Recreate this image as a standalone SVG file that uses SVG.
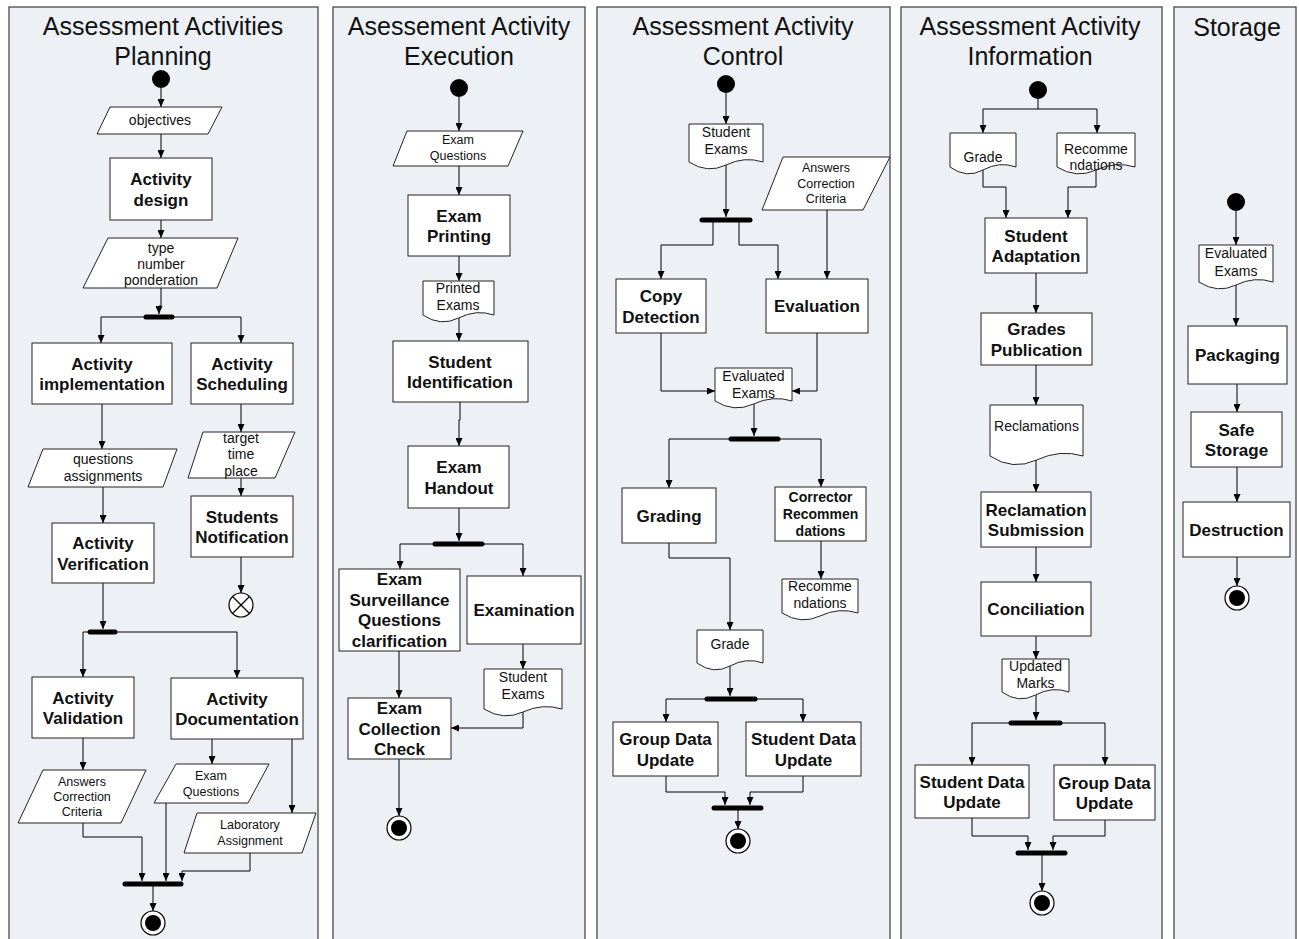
<svg xmlns="http://www.w3.org/2000/svg" width="1299" height="939" viewBox="0 0 1299 939">
<style>
.lane{fill:#EDF1F6;stroke:#4a4a4a;stroke-width:1.3}
.box{fill:#fff;stroke:#222;stroke-width:1}
.io{fill:#fff;stroke:#222;stroke-width:1}
.c{fill:none;stroke:#000;stroke-width:1;marker-end:url(#ah)}
.bar{stroke:#000;stroke-width:5;stroke-linecap:round}
.start{fill:#000}
.fo{fill:#fff;stroke:#000;stroke-width:1.2}
.fi{fill:#000}
text{font-family:"Liberation Sans",Arial,sans-serif;text-anchor:middle;fill:#111}
.t{font-size:25px}
.b{font-size:17px;font-weight:bold}
.bs{font-size:14px;font-weight:bold}
.r{font-size:14px}
.s{font-size:12.5px}
</style>
<defs>
<marker id="ah" markerUnits="userSpaceOnUse" markerWidth="8" markerHeight="7" refX="8" refY="3.5" orient="auto">
<path d="M0,0 L8,3.5 L0,7 Z" fill="#000"/>
</marker>
</defs>

<g id="lanes">
<rect class="lane" x="9" y="7" width="309" height="945"/>
<rect class="lane" x="333" y="7" width="252" height="945"/>
<rect class="lane" x="597" y="7" width="293" height="945"/>
<rect class="lane" x="901" y="7" width="261" height="945"/>
<rect class="lane" x="1174" y="7" width="122" height="945"/>
<text class="t" x="163" y="35">Assessment Activities</text>
<text class="t" x="163" y="65">Planning</text>
<text class="t" x="459" y="35">Asessement Activity</text>
<text class="t" x="459" y="65">Execution</text>
<text class="t" x="743" y="35">Assessment Activity</text>
<text class="t" x="743" y="65">Control</text>
<text class="t" x="1030" y="35">Assessment Activity</text>
<text class="t" x="1030" y="65">Information</text>
<text class="t" x="1237" y="36">Storage</text>
</g>

<g id="connectors">
<!-- lane 1 -->
<polyline class="c" points="161,88 161,107"/>
<polyline class="c" points="161,134 161,158"/>
<polyline class="c" points="161,220 161,238"/>
<polyline class="c" points="161,288 161,306 159,306 159,314"/>
<polyline class="c" points="150,317 101,317 101,343"/>
<polyline class="c" points="168,317 241,317 241,343"/>
<polyline class="c" points="102,404 102,449"/>
<polyline class="c" points="103,487 103,523"/>
<polyline class="c" points="241,404 241,432"/>
<polyline class="c" points="241,478 241,496"/>
<polyline class="c" points="241,557 241,593"/>
<polyline class="c" points="103,583 103,629"/>
<polyline class="c" points="92,632 83,632 83,677"/>
<polyline class="c" points="113,632 237,632 237,678"/>
<polyline class="c" points="83,738 83,770"/>
<polyline class="c" points="83,823 83,837 142,837 142,881"/>
<polyline class="c" points="212,739 212,764"/>
<polyline class="c" points="166,803 166,881"/>
<polyline class="c" points="292,739 292,813"/>
<polyline class="c" points="250,853 250,871 182,871 182,881"/>
<polyline class="c" points="153,886 153,911"/>
<!-- lane 2 -->
<polyline class="c" points="459,97 459,131"/>
<polyline class="c" points="459,166 459,195"/>
<polyline class="c" points="459,256 459,281"/>
<polyline class="c" points="459,318 459,341"/>
<polyline class="c" points="460,402 460,420 459,420 459,446"/>
<polyline class="c" points="459,508 459,541"/>
<polyline class="c" points="437,544 400,544 400,569"/>
<polyline class="c" points="480,544 523,544 523,576"/>
<polyline class="c" points="523,644 523,669"/>
<polyline class="c" points="523,712 523,728 451,728"/>
<polyline class="c" points="399,651 399,698"/>
<polyline class="c" points="399,759 399,816"/>
<!-- lane 3 -->
<polyline class="c" points="726,93 726,124"/>
<polyline class="c" points="726,165 726,217"/>
<polyline class="c" points="713,220 713,245 661,245 661,279"/>
<polyline class="c" points="739,220 739,245 778,245 778,279"/>
<polyline class="c" points="827,210 827,279"/>
<polyline class="c" points="661,333 661,391 715,391"/>
<polyline class="c" points="817,333 817,391 792,391"/>
<polyline class="c" points="754,404 754,436"/>
<polyline class="c" points="733,439 669,439 669,488"/>
<polyline class="c" points="776,439 821,439 821,487"/>
<polyline class="c" points="821,541 821,579"/>
<polyline class="c" points="669,543 669,558 730,558 730,630"/>
<polyline class="c" points="730,666 730,696"/>
<polyline class="c" points="709,699 666,699 666,722"/>
<polyline class="c" points="753,699 803,699 803,722"/>
<polyline class="c" points="666,776 666,792 725,792 725,805"/>
<polyline class="c" points="803,776 803,792 750,792 750,805"/>
<polyline class="c" points="738,810 738,829"/>
<!-- lane 4 -->
<polyline fill="none" stroke="#000" stroke-width="1" points="1038,99 1038,109"/>
<polyline class="c" points="1038,109 983,109 983,133"/>
<polyline class="c" points="1038,109 1097,109 1097,133"/>
<polyline class="c" points="983,170 983,187 1006,187 1006,218"/>
<polyline class="c" points="1096,170 1096,187 1068,187 1068,218"/>
<polyline class="c" points="1036,273 1036,313"/>
<polyline class="c" points="1036,365 1036,405"/>
<polyline class="c" points="1036,460 1036,492"/>
<polyline class="c" points="1036,547 1036,582"/>
<polyline class="c" points="1036,636 1036,659"/>
<polyline class="c" points="1036,695 1036,720"/>
<polyline class="c" points="1013,723 972,723 972,765"/>
<polyline class="c" points="1058,723 1105,723 1105,765"/>
<polyline class="c" points="972,818 972,836 1028,836 1028,850"/>
<polyline class="c" points="1105,820 1105,836 1053,836 1053,850"/>
<polyline class="c" points="1042,855 1042,891"/>
<!-- lane 5 -->
<polyline class="c" points="1236,211 1236,245"/>
<polyline class="c" points="1236,285 1236,326"/>
<polyline class="c" points="1237,384 1237,412"/>
<polyline class="c" points="1237,467 1237,502"/>
<polyline class="c" points="1237,557 1237,586"/>
</g>

<!-- Lane 1 nodes -->
<g id="start1"><circle class="start" cx="161" cy="79" r="9"/></g>
<g id="objectives"><polygon class="io" points="110,107 222,107 208,134 97,134"/><text class="r" x="160" y="125">objectives</text></g>
<g id="activity-design"><rect class="box" x="110" y="158" width="102" height="62"/><text class="b" x="161" y="185">Activity</text><text class="b" x="161" y="205.5">design</text></g>
<g id="type-number"><polygon class="io" points="108,238 238,238 217,288 83,288"/><text class="r" x="161" y="253">type</text><text class="r" x="161" y="269">number</text><text class="r" x="161" y="285">ponderation</text></g>
<g id="fork1"><line class="bar" x1="146" y1="317" x2="172" y2="317"/></g>
<g id="activity-implementation"><rect class="box" x="32" y="343" width="140" height="61"/><text class="b" x="102" y="369.5">Activity</text><text class="b" x="102" y="390">implementation</text></g>
<g id="activity-scheduling"><rect class="box" x="191" y="343" width="102" height="61"/><text class="b" x="242" y="369.5">Activity</text><text class="b" x="242" y="390">Scheduling</text></g>
<g id="questions-assignments"><polygon class="io" points="43,449 177,449 163,487 28,487"/><text class="r" x="103" y="464">questions</text><text class="r" x="103" y="481">assignments</text></g>
<g id="target-time-place"><polygon class="io" points="203,432 295,432 275,478 188,478"/><text class="r" x="241" y="443">target</text><text class="r" x="241" y="459">time</text><text class="r" x="241" y="476">place</text></g>
<g id="activity-verification"><rect class="box" x="52" y="523" width="102" height="60"/><text class="b" x="103" y="549">Activity</text><text class="b" x="103" y="569.5">Verification</text></g>
<g id="students-notification"><rect class="box" x="191" y="496" width="102" height="61"/><text class="b" x="242" y="522.5">Students</text><text class="b" x="242" y="543">Notification</text></g>
<g id="flowfinal1"><circle class="fo" cx="241" cy="605" r="12"/><line x1="232.5" y1="596.5" x2="249.5" y2="613.5" stroke="#000" stroke-width="1.2"/><line x1="249.5" y1="596.5" x2="232.5" y2="613.5" stroke="#000" stroke-width="1.2"/></g>
<g id="fork2"><line class="bar" x1="90" y1="632" x2="115" y2="632"/></g>
<g id="activity-validation"><rect class="box" x="32" y="677" width="102" height="61"/><text class="b" x="83" y="703.5">Activity</text><text class="b" x="83" y="724">Validation</text></g>
<g id="activity-documentation"><rect class="box" x="171" y="678" width="132" height="61"/><text class="b" x="237" y="704.5">Activity</text><text class="b" x="237" y="725">Documentation</text></g>
<g id="answers-criteria1"><polygon class="io" points="43,770 146,770 121,823 18,823"/><text class="s" x="82" y="786">Answers</text><text class="s" x="82" y="801">Correction</text><text class="s" x="82" y="816">Criteria</text></g>
<g id="exam-questions1"><polygon class="io" points="176,764 269,764 248,803 154,803"/><text class="s" x="211" y="780">Exam</text><text class="s" x="211" y="796">Questions</text></g>
<g id="laboratory-assignment"><polygon class="io" points="197,813 316,813 302,853 184,853"/><text class="s" x="250" y="829">Laboratory</text><text class="s" x="250" y="845">Assignment</text></g>
<g id="join1"><line class="bar" x1="125" y1="884" x2="181" y2="884"/></g>
<g id="final1"><circle class="fo" cx="153" cy="923" r="12"/><circle class="fi" cx="153" cy="923" r="8"/></g>

<!-- Lane 2 nodes -->
<g id="start2"><circle class="start" cx="459" cy="88" r="9"/></g>
<g id="exam-questions2"><polygon class="io" points="407,131 523,131 508,166 393,166"/><text class="s" x="458" y="144">Exam</text><text class="s" x="458" y="160">Questions</text></g>
<g id="exam-printing"><rect class="box" x="408" y="195" width="102" height="61"/><text class="b" x="459" y="221.5">Exam</text><text class="b" x="459" y="242">Printing</text></g>
<g id="printed-exams"><path class="io" d="M423,281 H494 V315 Q476.3,309 458.5,318 T423,315 Z"/><text class="r" x="458" y="293">Printed</text><text class="r" x="458" y="310">Exams</text></g>
<g id="student-identification"><rect class="box" x="393" y="341" width="135" height="61"/><text class="b" x="460" y="367.5">Student</text><text class="b" x="460" y="388">Identification</text></g>
<g id="exam-handout"><rect class="box" x="408" y="446" width="101" height="62"/><text class="b" x="459" y="473">Exam</text><text class="b" x="459" y="493.5">Handout</text></g>
<g id="fork3"><line class="bar" x1="435" y1="544" x2="482" y2="544"/></g>
<g id="exam-surveillance"><rect class="box" x="339" y="569" width="121" height="82"/><text class="b" x="399.5" y="585">Exam</text><text class="b" x="399.5" y="605.5">Surveillance</text><text class="b" x="399.5" y="626">Questions</text><text class="b" x="399.5" y="646.5">clarification</text></g>
<g id="examination"><rect class="box" x="467" y="576" width="114" height="68"/><text class="b" x="524" y="616">Examination</text></g>
<g id="student-exams2"><path class="io" d="M484,669 H562 V709 Q542.5,703 523,712 T484,709 Z"/><text class="r" x="523" y="682">Student</text><text class="r" x="523" y="699">Exams</text></g>
<g id="exam-collection-check"><rect class="box" x="348" y="698" width="103" height="61"/><text class="b" x="399.5" y="714">Exam</text><text class="b" x="399.5" y="734.5">Collection</text><text class="b" x="399.5" y="755">Check</text></g>
<g id="final2"><circle class="fo" cx="399" cy="828" r="12"/><circle class="fi" cx="399" cy="828" r="8"/></g>

<!-- Lane 3 nodes -->
<g id="start3"><circle class="start" cx="726" cy="84" r="9"/></g>
<g id="student-exams3"><path class="io" d="M689,124 H763 V162 Q744.5,156 726,165 T689,162 Z"/><text class="r" x="726" y="137">Student</text><text class="r" x="726" y="154">Exams</text></g>
<g id="fork4"><line class="bar" x1="702" y1="220" x2="750" y2="220"/></g>
<g id="answers-criteria3"><polygon class="io" points="783,157 890,157 863,210 762,210"/><text class="s" x="826" y="172">Answers</text><text class="s" x="826" y="188">Correction</text><text class="s" x="826" y="203">Criteria</text></g>
<g id="copy-detection"><rect class="box" x="616" y="279" width="90" height="54"/><text class="b" x="661" y="302">Copy</text><text class="b" x="661" y="322.5">Detection</text></g>
<g id="evaluation"><rect class="box" x="766" y="279" width="102" height="54"/><text class="b" x="817" y="312">Evaluation</text></g>
<g id="evaluated-exams3"><path class="io" d="M715,368 H792 V401 Q772.8,395 753.5,404 T715,401 Z"/><text class="r" x="753.5" y="381">Evaluated</text><text class="r" x="753.5" y="398">Exams</text></g>
<g id="fork5"><line class="bar" x1="731" y1="439" x2="778" y2="439"/></g>
<g id="grading"><rect class="box" x="622" y="488" width="94" height="55"/><text class="b" x="669" y="521.5">Grading</text></g>
<g id="corrector-recommendations"><rect class="box" x="775" y="487" width="91" height="54"/><text class="bs" x="820.5" y="502">Corrector</text><text class="bs" x="820.5" y="519">Recommen</text><text class="bs" x="820.5" y="536">dations</text></g>
<g id="recommendations3"><path class="io" d="M782,579 H858 V613 Q839,607 820,616 T782,613 Z"/><text class="r" x="820" y="591">Recomme</text><text class="r" x="820" y="608">ndations</text></g>
<g id="grade3"><path class="io" d="M697,630 H763 V663 Q746.5,657 730,666 T697,663 Z"/><text class="r" x="730" y="649">Grade</text></g>
<g id="fork6"><line class="bar" x1="707" y1="699" x2="755" y2="699"/></g>
<g id="group-data-update3"><rect class="box" x="613" y="722" width="105" height="54"/><text class="b" x="665.5" y="745">Group Data</text><text class="b" x="665.5" y="765.5">Update</text></g>
<g id="student-data-update3"><rect class="box" x="746" y="722" width="115" height="54"/><text class="b" x="803.5" y="745">Student Data</text><text class="b" x="803.5" y="765.5">Update</text></g>
<g id="join3"><line class="bar" x1="714" y1="808" x2="761" y2="808"/></g>
<g id="final3"><circle class="fo" cx="738" cy="841" r="12"/><circle class="fi" cx="738" cy="841" r="8"/></g>

<!-- Lane 4 nodes -->
<g id="start4"><circle class="start" cx="1038" cy="90" r="9"/></g>
<g id="grade4"><path class="io" d="M950,133 H1016 V167 Q999.5,161 983,170 T950,167 Z"/><text class="r" x="983" y="162">Grade</text></g>
<g id="recommendations4"><path class="io" d="M1057,133 H1135 V167 Q1115.5,161 1096,170 T1057,167 Z"/><text class="r" x="1096" y="154">Recomme</text><text class="r" x="1096" y="170">ndations</text></g>
<g id="student-adaptation"><rect class="box" x="985" y="218" width="102" height="55"/><text class="b" x="1036" y="241.5">Student</text><text class="b" x="1036" y="262">Adaptation</text></g>
<g id="grades-publication"><rect class="box" x="981" y="313" width="111" height="52"/><text class="b" x="1036.5" y="335">Grades</text><text class="b" x="1036.5" y="355.5">Publication</text></g>
<g id="reclamations"><path class="io" d="M990,405 H1083 V456 Q1060.3,449 1036.5,460 T990,456 Z"/><text class="r" x="1036.5" y="431">Reclamations</text></g>
<g id="reclamation-submission"><rect class="box" x="981" y="492" width="110" height="55"/><text class="b" x="1036" y="515.5">Reclamation</text><text class="b" x="1036" y="536">Submission</text></g>
<g id="conciliation"><rect class="box" x="981" y="582" width="110" height="54"/><text class="b" x="1036" y="615">Conciliation</text></g>
<g id="updated-marks"><path class="io" d="M1002,659 H1069 V692 Q1052.3,686 1035.5,695 T1002,692 Z"/><text class="r" x="1035.5" y="671">Updated</text><text class="r" x="1035.5" y="688">Marks</text></g>
<g id="fork7"><line class="bar" x1="1011" y1="723" x2="1060" y2="723"/></g>
<g id="student-data-update4"><rect class="box" x="915" y="765" width="114" height="53"/><text class="b" x="972" y="787.5">Student Data</text><text class="b" x="972" y="808">Update</text></g>
<g id="group-data-update4"><rect class="box" x="1054" y="765" width="101" height="55"/><text class="b" x="1104.5" y="788.5">Group Data</text><text class="b" x="1104.5" y="809">Update</text></g>
<g id="join4"><line class="bar" x1="1018" y1="853" x2="1065" y2="853"/></g>
<g id="final4"><circle class="fo" cx="1042" cy="903" r="12"/><circle class="fi" cx="1042" cy="903" r="8"/></g>

<!-- Lane 5 nodes -->
<g id="start5"><circle class="start" cx="1236" cy="202" r="9"/></g>
<g id="evaluated-exams5"><path class="io" d="M1199,245 H1273 V282 Q1254.5,276 1236,285 T1199,282 Z"/><text class="r" x="1236" y="258">Evaluated</text><text class="r" x="1236" y="276">Exams</text></g>
<g id="packaging"><rect class="box" x="1188" y="326" width="99" height="58"/><text class="b" x="1237.5" y="361">Packaging</text></g>
<g id="safe-storage"><rect class="box" x="1191" y="412" width="91" height="55"/><text class="b" x="1236.5" y="435.5">Safe</text><text class="b" x="1236.5" y="456">Storage</text></g>
<g id="destruction"><rect class="box" x="1183" y="502" width="107" height="55"/><text class="b" x="1236.5" y="535.5">Destruction</text></g>
<g id="final5"><circle class="fo" cx="1237" cy="598" r="12"/><circle class="fi" cx="1237" cy="598" r="8"/></g>
</svg>
